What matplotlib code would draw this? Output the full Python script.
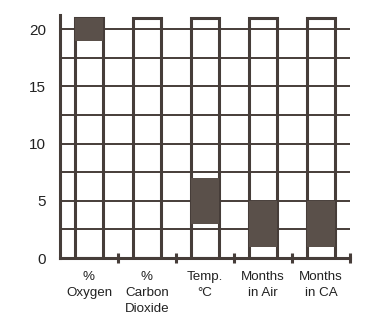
import matplotlib.pyplot as plt
import numpy as np

# storage conditions: full scale column plus shaded optimum range
categories = ["%\nOxygen", "%\nCarbon\nDioxide", "Temp.\n°C", "Months\nin Air", "Months\nin CA"]
col_top = [21, 21, 21, 21, 21]
range_low = [19, 0, 3, 1, 1]
range_high = [21, 0, 7, 5, 5]

ink = "#463d39"
shade = "#5a504a"

plt.rcParams['font.family'] = ['Liberation Sans', 'DejaVu Sans']

fig = plt.figure(figsize=(3.82, 3.34), dpi=100)
ax = fig.add_axes([0.157, 0.2275, 0.759, 0.7266])

x = np.arange(len(categories)) + 0.5
w = 0.48

# horizontal grid every 2.5 drawn under the columns
for yy in np.arange(2.5, 21, 2.5):
    ax.axhline(yy, color=ink, lw=1.4, zorder=1)

ax.bar(x, col_top, width=w, facecolor="none", edgecolor=ink, lw=2.2, zorder=2)
heights = [h - l for h, l in zip(range_high, range_low)]
ax.bar(x, heights, bottom=range_low, width=w, color=shade, edgecolor="none", zorder=3)

ax.set_xlim(0, 5)
ax.set_ylim(0, 21.2)

for s in ["top", "right"]:
    ax.spines[s].set_visible(False)
for s in ["left", "bottom"]:
    ax.spines[s].set_color(ink)
    ax.spines[s].set_linewidth(2.2)
    ax.spines[s].set_zorder(4)

ax.set_yticks([0, 5, 10, 15, 20])
ax.tick_params(axis="y", length=0, pad=10, labelsize=11, labelcolor="#222222")

ax.set_xticks(x)
ax.set_xticklabels(categories, fontsize=9.6, linespacing=1.45, color="#222222")
ax.set_xticks(np.arange(1, 6), minor=True)
ax.tick_params(axis="x", which="major", length=0, pad=9)
ax.tick_params(axis="x", which="minor", length=7, width=2.2, color=ink, direction="inout")

fig.savefig("out.png", dpi=100)
